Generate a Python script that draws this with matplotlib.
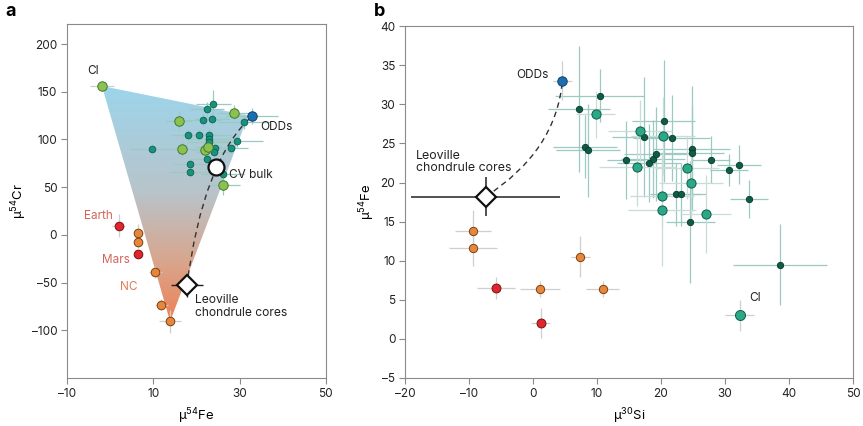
import matplotlib
matplotlib.use("Agg")
import matplotlib.pyplot as plt
import numpy as np
from matplotlib.colors import LinearSegmentedColormap
from matplotlib.patches import Polygon, PathPatch
from matplotlib.path import Path

plt.rcParams['font.family'] = ['Inter', 'DejaVu Sans']
plt.rcParams['mathtext.fontset'] = 'custom'
plt.rcParams['mathtext.rm'] = 'Inter'
plt.rcParams['mathtext.default'] = 'regular'

# ---------------- Panel a data (mu54Fe, mu54Cr) ----------------
a_cv_x = [16.0, 28.8, 16.6, 22.0, 22.7, 26.1]
a_cv_y = [119, 128, 90, 89, 92.4, 52]
a_cv_xe = [3, 4, 3, 3, 3, 4]
a_cv_ye = [10, 8, 8, 8, 8, 10]

a_ch_x = [9.6, 18.0, 20.5, 22.4, 23.9, 21.6, 23.7, 23.0, 23.0, 23.0,
          24.3, 24.0, 27.9, 29.5, 31.1, 18.6, 18.6, 22.5, 26.1]
a_ch_y = [90.5, 104.8, 104.8, 131.5, 137, 120.3, 121.3, 104.5, 100.5, 97,
          91.3, 87.1, 90.7, 98, 118.5, 74.3, 65.4, 79.7, 63.5]
a_ch_xe = [5, 4, 4, 4, 4, 4, 4, 5, 5, 5, 4, 4, 4, 6, 6, 4, 5, 4, 5]
a_ch_ye = [5, 5, 5, 8, 15, 6, 6, 8, 6, 6, 5, 5, 5, 6, 8, 5, 5, 5, 6]

a_odd = (32.9, 124.5)
a_ci = (-1.9, 156)
a_cvbulk = (24.5, 71)
a_leo = (17.8, -53)
a_leo_err = (3.8, 12)

a_nc_x = [6.5, 6.5, 10.5, 11.8, 13.9]
a_nc_y = [1.7, -7.3, -39, -73, -90.7]
a_nc_xe = [1, 1, 1.5, 1.5, 2.5]
a_nc_ye = [10, 6, 6, 6, 12]

a_planet_x = [2.0, 6.5]
a_planet_y = [9.7, -20.2]
a_planet_xe = [1.5, 1]
a_planet_ye = [12, 4]

# ---------------- Panel b data (mu30Si, mu54Fe) ----------------
b_ch_x = [10.4, 7.2, 8.2, 8.6, 14.5, 17.3, 20.4, 21.7, 18.1, 18.7, 19.3,
          22.3, 23.1, 24.8, 24.8, 27.8, 30.6, 32.2, 33.75, 24.6, 38.6]
b_ch_y = [31.1, 29.4, 24.6, 24.1, 22.9, 25.8, 27.9, 25.7, 22.5, 23.0, 23.6,
          18.5, 18.5, 24.3, 23.8, 22.9, 21.6, 22.3, 17.9, 15.0, 9.5]
b_ch_xe = [6.9, 4.8, 5, 5, 3, 5, 5, 6, 5, 5, 5, 4, 4, 6, 5, 3, 3, 3.5, 3, 3.8, 7.3]
b_ch_ye = [3.4, 8, 4, 6, 5, 7.7, 7.8, 5.5, 5, 5, 6, 4, 4, 8, 6, 3, 2, 2.5, 2.4, 7.8, 5.2]

b_cv_x = [9.8, 16.8, 20.3, 16.3, 24.1, 24.7, 20.2, 20.2, 27.0]
b_cv_y = [28.7, 26.6, 25.9, 22.0, 21.9, 19.9, 18.3, 16.5, 16.0]
b_cv_xe = [3, 5, 5, 6, 5, 5, 5, 5.3, 4]
b_cv_ye = [3, 4, 5, 5, 4, 5, 4, 7.2, 5]

b_ci = (32.3, 3.0)
b_ci_err = (2.3, 2.0)
b_odd = (4.6, 33.0)
b_odd_err = (1.5, 2.5)
b_leo = (-7.4, 18.2)
b_leo_err = (11.6, 2.5)

b_nc_x = [-9.4, -9.4, 7.4, 1.1, 10.9]
b_nc_y = [13.8, 11.6, 10.5, 6.35, 6.35]
b_nc_xe = [2.8, 3.8, 1.5, 3.1, 2.6]
b_nc_ye = [2.7, 2.3, 2.6, 1.0, 1.0]

b_planet_x = [-5.8, 1.2]
b_planet_y = [6.5, 2.0]
b_planet_xe = [3, 1.5]
b_planet_ye = [1.4, 1.9]

# colours
c_light = '#8cc152'
c_teal = '#16937f'
c_dark = '#0e5c46'
c_mid = '#2aa887'
c_blue = '#1b6fb0'
c_orange = '#e8873c'
c_red = '#e0252e'
c_text_red = '#d4645a'
c_text_or = '#e07a55'

fig = plt.figure(figsize=(8.63, 4.26), dpi=100)
ax1 = fig.add_axes([0.0776, 0.1127, 0.300, 0.831])
ax2 = fig.add_axes([0.4693, 0.1127, 0.519, 0.826])

for ax in (ax1, ax2):
    for s in ax.spines.values():
        s.set_color('#8a8a8a')
        s.set_linewidth(0.8)
    ax.tick_params(direction='out', length=4, width=0.8, color='#8a8a8a',
                   labelsize=8.5, labelcolor='#222222', pad=3)

# ---------------- Panel a ----------------
ax1.set_xticks([-10, 10, 30, 50])
ax1.set_yticks([-100, -50, 0, 50, 100, 150, 200])
ax1.set_xticklabels(['\u201310', '10', '30', '50'])
ax1.set_yticklabels(['\u2013100', '\u201350', '0', '50', '100', '150', '200'])

# shaded mixing triangle with vertical colour gradient
tri = Polygon([a_ci, (32.0, 125.0), (a_nc_x[-1], a_nc_y[-1])], closed=True,
              facecolor='none', edgecolor='none')
ax1.add_patch(tri)
cmap = LinearSegmentedColormap.from_list(
    'grad', [(0, '#ef8055'), (0.25, '#d9a58c'), (0.55, '#b8c4ca'), (1, '#9cd5ec')])
grad = np.linspace(0, 1, 256).reshape(-1, 1)
im = ax1.imshow(grad, extent=[-10, 50, -91, 157], origin='lower', cmap=cmap,
                aspect='auto', zorder=0)
im.set_clip_path(tri)
ax1.set_xlim(-10, 50)
ax1.set_ylim(-150, 221)

eb_teal = '#9cc9c0'
eb_grey = '#cfcfcf'
ax1.errorbar(a_ch_x, a_ch_y, xerr=a_ch_xe, yerr=a_ch_ye, fmt='none',
             ecolor=eb_teal, elinewidth=0.9, zorder=2)
ax1.errorbar(a_cv_x, a_cv_y, xerr=a_cv_xe, yerr=a_cv_ye, fmt='none',
             ecolor=eb_teal, elinewidth=0.9, zorder=2)
ax1.errorbar(a_nc_x, a_nc_y, xerr=a_nc_xe, yerr=a_nc_ye, fmt='none',
             ecolor=eb_grey, elinewidth=0.9, zorder=2)
ax1.errorbar(a_planet_x, a_planet_y, xerr=a_planet_xe, yerr=a_planet_ye, fmt='none',
             ecolor=eb_grey, elinewidth=0.9, zorder=2)
ax1.errorbar([a_ci[0]], [a_ci[1]], xerr=[2.7], yerr=[3], fmt='none',
             ecolor=eb_grey, elinewidth=0.9, zorder=2)
ax1.errorbar([a_odd[0]], [a_odd[1]], xerr=[6], yerr=[8], fmt='none',
             ecolor=eb_teal, elinewidth=0.9, zorder=2)

# mixing curve a (Leoville -> ODDs)
pa = Path([a_leo, (21.5, 78.0), a_odd], [Path.MOVETO, Path.CURVE3, Path.CURVE3])
ax1.add_patch(PathPatch(pa, facecolor='none', edgecolor='#333333', lw=1.0,
                        linestyle=(0, (4, 3)), zorder=3))

ax1.plot(a_ch_x, a_ch_y, 'o', ms=4.8, mfc=c_teal, mec='#0d5e4e', mew=0.6, zorder=4)
ax1.plot(a_cv_x, a_cv_y, 'o', ms=6.8, mfc=c_light, mec='#3f7a2a', mew=0.7, zorder=5)
ax1.plot([a_ci[0]], [a_ci[1]], 'o', ms=6.8, mfc=c_light, mec='#3f7a2a', mew=0.7, zorder=5)
ax1.plot([a_odd[0]], [a_odd[1]], 'o', ms=6.8, mfc=c_blue, mec='#0e3f6e', mew=0.7, zorder=5)
ax1.plot(a_nc_x, a_nc_y, 'o', ms=6.2, mfc=c_orange, mec='#7a4010', mew=0.7, zorder=5)
ax1.plot(a_planet_x, a_planet_y, 'o', ms=6.2, mfc=c_red, mec='#7a1010', mew=0.7, zorder=5)
ax1.plot([a_cvbulk[0]], [a_cvbulk[1]], 'o', ms=11.5, mfc='white', mec='#111111',
         mew=1.6, zorder=6)
ax1.errorbar([a_leo[0]], [a_leo[1]], xerr=[a_leo_err[0]], yerr=[a_leo_err[1]],
             fmt='none', ecolor='#222222', elinewidth=1.0, zorder=5)
ax1.plot([a_leo[0]], [a_leo[1]], 'D', ms=10.5, mfc='white', mec='#111111',
         mew=1.6, zorder=6)

ax1.text(-4, 172, 'CI', fontsize=8.5, ha='center', va='center', color='#222222')
ax1.text(34.7, 113, 'ODDs', fontsize=8.5, ha='left', va='center', color='#222222')
ax1.text(27.5, 62.8, 'CV bulk', fontsize=8.5, ha='left', va='center', color='#222222')
ax1.text(0.65, 20, 'Earth', fontsize=8.5, ha='right', va='center', color=c_text_red)
ax1.text(4.6, -26, 'Mars', fontsize=8.5, ha='right', va='center', color=c_text_red)
ax1.text(6.4, -55, 'NC', fontsize=8.5, ha='right', va='center', color=c_text_or)
ax1.text(19.6, -75, 'Leoville\nchondrule cores', fontsize=8.7, ha='left', va='center',
         color='#222222', linespacing=1.05)

ax1.set_xlabel('μ$^{54}$Fe', fontsize=9.5, labelpad=5)
ax1.set_ylabel('μ$^{54}$Cr', fontsize=9.5, labelpad=2)

# ---------------- Panel b ----------------
ax2.set_xlim(-20, 50)
ax2.set_ylim(-5, 40)
ax2.set_xticks(np.arange(-20, 51, 10))
ax2.set_yticks(np.arange(-5, 41, 5))
ax2.set_xticklabels([('\u2013%d' % -v) if v < 0 else str(v) for v in range(-20, 51, 10)])
ax2.set_yticklabels([('\u2013%d' % -v) if v < 0 else str(v) for v in range(-5, 41, 5)])

ax2.errorbar(b_ch_x, b_ch_y, xerr=b_ch_xe, yerr=b_ch_ye, fmt='none',
             ecolor=eb_teal, elinewidth=0.9, zorder=2)
ax2.errorbar(b_cv_x, b_cv_y, xerr=b_cv_xe, yerr=b_cv_ye, fmt='none',
             ecolor='#c8ddd8', elinewidth=0.9, zorder=2)
ax2.errorbar([b_ci[0]], [b_ci[1]], xerr=[b_ci_err[0]], yerr=[b_ci_err[1]], fmt='none',
             ecolor=eb_grey, elinewidth=0.9, zorder=2)
ax2.errorbar([b_odd[0]], [b_odd[1]], xerr=[b_odd_err[0]], yerr=[b_odd_err[1]], fmt='none',
             ecolor=eb_grey, elinewidth=0.9, zorder=2)
ax2.errorbar(b_nc_x, b_nc_y, xerr=b_nc_xe, yerr=b_nc_ye, fmt='none',
             ecolor=eb_grey, elinewidth=0.9, zorder=2)
ax2.errorbar(b_planet_x, b_planet_y, xerr=b_planet_xe, yerr=b_planet_ye, fmt='none',
             ecolor=eb_grey, elinewidth=0.9, zorder=2)

# mixing curve b (Leoville -> ODDs)
pb = Path([b_leo, (3.6, 24.0), b_odd], [Path.MOVETO, Path.CURVE3, Path.CURVE3])
ax2.add_patch(PathPatch(pb, facecolor='none', edgecolor='#333333', lw=1.0,
                        linestyle=(0, (4, 3)), zorder=3))

ax2.plot(b_ch_x, b_ch_y, 'o', ms=4.6, mfc=c_dark, mec='#06382a', mew=0.6, zorder=4)
ax2.plot(b_cv_x, b_cv_y, 'o', ms=6.6, mfc=c_mid, mec='#0d5e46', mew=0.7, zorder=5)
ax2.plot([b_ci[0]], [b_ci[1]], 'o', ms=7.2, mfc=c_mid, mec='#0d5e46', mew=0.7, zorder=5)
ax2.plot([b_odd[0]], [b_odd[1]], 'o', ms=6.8, mfc=c_blue, mec='#0e3f6e', mew=0.7, zorder=5)
ax2.plot(b_nc_x, b_nc_y, 'o', ms=6.0, mfc=c_orange, mec='#7a4010', mew=0.7, zorder=5)
ax2.plot(b_planet_x, b_planet_y, 'o', ms=6.4, mfc=c_red, mec='#7a1010', mew=0.7, zorder=5)
ax2.errorbar([b_leo[0]], [b_leo[1]], xerr=[b_leo_err[0]], yerr=[b_leo_err[1]],
             fmt='none', ecolor='#222222', elinewidth=1.1, zorder=5)
ax2.plot([b_leo[0]], [b_leo[1]], 'D', ms=10.5, mfc='white', mec='#111111',
         mew=1.6, zorder=6)

ax2.text(2.5, 33.7, 'ODDs', fontsize=8.5, ha='right', va='center', color='#222222')
ax2.text(-18.3, 22.6, 'Leoville\nchondrule cores', fontsize=8.9, ha='left',
         va='center', color='#222222', linespacing=1.05)
ax2.text(33.75, 5.2, 'CI', fontsize=8.5, ha='left', va='center', color='#222222')

ax2.set_xlabel('μ$^{30}$Si', fontsize=9.5, labelpad=5)
ax2.set_ylabel('μ$^{54}$Fe', fontsize=9.5, labelpad=2)

fig.text(0.006, 0.972, 'a', fontsize=13, fontweight='bold', va='center', ha='left')
fig.text(0.433, 0.972, 'b', fontsize=13, fontweight='bold', va='center', ha='left')

fig.savefig('out.png', dpi=100)
